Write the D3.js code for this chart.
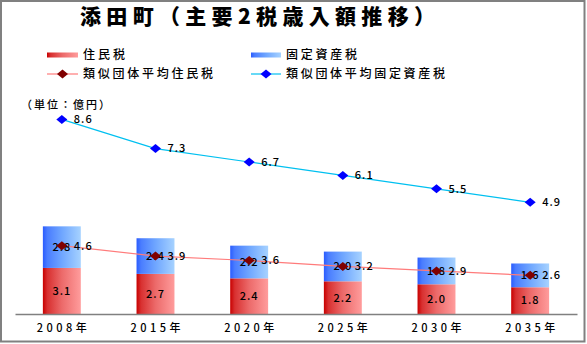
<!DOCTYPE html>
<html><head><meta charset="utf-8">
<script src="https://cdn.jsdelivr.net/npm/d3@7"></script>
<style>
html,body{margin:0;padding:0;background:#fff;}
svg{display:block;font-family:"Noto Sans CJK JP","Noto Sans",sans-serif;}
</style></head>
<body>
<svg id="c" width="587" height="344"></svg>
<script>
const categories = ["2008年","2015年","2020年","2025年","2030年","2035年"];
const residentTax = [3.1, 2.7, 2.4, 2.2, 2.0, 1.8];
const fixedAssetTax = [2.8, 2.4, 2.2, 2.0, 1.8, 1.6];
const avgResidentTax = [4.6, 3.9, 3.6, 3.2, 2.9, 2.6];
const avgFixedAssetTax = [8.6, 7.3, 6.7, 6.1, 5.5, 4.9];
const titleText = "添田町（主要2税歳入額推移）";
const unitText = "（単位：億円）";
const legendLabels = ["住民税","固定資産税","類似団体平均住民税","類似団体平均固定資産税"];

const svg = d3.select("#c");
const defs = svg.append("defs");
function grad(id, stops){
  const g = defs.append("linearGradient").attr("id", id).attr("x1","0").attr("x2","1").attr("y1","0").attr("y2","0");
  stops.forEach(s => g.append("stop").attr("offset", s[0]).attr("stop-color", s[1]));
}
grad("gRed", [[0,"#c80000"],[0.12,"#d83030"],[0.5,"#ec6a6a"],[1,"#ff9c9c"]]);
grad("gBlue", [[0,"#2a5cff"],[0.12,"#4a7dff"],[0.5,"#6fa6ff"],[1,"#a6d2ff"]]);

// frame
svg.append("rect").attr("x",1).attr("y",1).attr("width",583.5).attr("height",340.5)
  .attr("fill","none").attr("stroke","#808080").attr("stroke-width",2);

const x = d3.scaleBand().domain(categories).range([15, 577]).padding(0);
const y1 = d3.scaleLinear().domain([0, 14]).range([314, 106]);
const y2 = d3.scaleLinear().domain([0, 9.2]).range([312, 106]);
const bw = x.bandwidth() * 0.405;
const cx = c => x(c) + x.bandwidth() / 2;

// bars
const g = svg.append("g");
categories.forEach((c, i) => {
  const r = residentTax[i], f = fixedAssetTax[i];
  g.append("rect").attr("x", cx(c) - bw/2).attr("y", y1(r)).attr("width", bw).attr("height", y1(0) - y1(r)).attr("fill","url(#gRed)");
  g.append("rect").attr("x", cx(c) - bw/2).attr("y", y1(r + f)).attr("width", bw).attr("height", y1(r) - y1(r + f)).attr("fill","url(#gBlue)");
});

// axis
const ax = svg.append("g").attr("transform","translate(0,314)").call(d3.axisBottom(x).tickSize(0).tickPadding(0).tickFormat(""));
ax.select(".domain").attr("stroke","#808080").attr("stroke-width",1.5);
categories.forEach(c => {
  svg.append("text").attr("x", cx(c) - 25).attr("y", 328).attr("dy","0.35em")
    .attr("font-size", 11).attr("font-weight", 500).attr("textLength", 50).attr("lengthAdjust","spacing").attr("fill","#000").text(c);
});

// lines
const lineR = d3.line().x((d,i) => cx(categories[i])).y(d => y1(d));
const lineF = d3.line().x((d,i) => cx(categories[i])).y(d => y2(d));
svg.append("path").attr("d", lineR(avgResidentTax)).attr("fill","none").attr("stroke","#ff7b7b").attr("stroke-width",1.2);
svg.append("path").attr("d", lineF(avgFixedAssetTax)).attr("fill","none").attr("stroke","#00c0f0").attr("stroke-width",1.2);

function diamond(sel, px, py, fill){
  sel.append("path").attr("d", `M${px-5.5},${py} L${px},${py-4.5} L${px+5.5},${py} L${px},${py+4.5} Z`).attr("fill", fill);
}

// bar labels
const lab = svg.append("g").attr("font-size", 11).attr("font-weight", 500).attr("fill","#000").attr("letter-spacing","1px");
categories.forEach((c, i) => {
  const r = residentTax[i], f = fixedAssetTax[i];
  lab.append("text").attr("x", cx(c)).attr("y", (y1(0)+y1(r))/2).attr("dy","0.35em").attr("text-anchor","middle").text(r.toFixed(1));
  lab.append("text").attr("x", cx(c)).attr("y", (y1(r)+y1(r+f))/2).attr("dy","0.35em").attr("text-anchor","middle").text(f.toFixed(1));
});

// markers and line labels
categories.forEach((c, i) => {
  diamond(svg, cx(c), y1(avgResidentTax[i]), "#800000");
  diamond(svg, cx(c), y2(avgFixedAssetTax[i]), "#0000ff");
});
categories.forEach((c, i) => {
  lab.append("text").attr("x", cx(c) + 12).attr("y", y1(avgResidentTax[i])).attr("dy","0.35em").text(avgResidentTax[i].toFixed(1));
  lab.append("text").attr("x", cx(c) + 12).attr("y", y2(avgFixedAssetTax[i])).attr("dy","0.35em").text(avgFixedAssetTax[i].toFixed(1));
});

// title
svg.append("text").attr("x", 80).attr("y", 17).attr("dy","0.35em").attr("font-size", 21).attr("font-weight", 900)
  .attr("textLength", 355).attr("lengthAdjust","spacing").attr("fill","#000").text(titleText);

// unit
svg.append("text").attr("x", 21).attr("y", 105).attr("dy","0.35em").attr("font-size", 11).attr("font-weight", 500)
  .attr("textLength", 89).attr("lengthAdjust","spacing").text(unitText);

// legend
const L = svg.append("g").attr("font-size", 12).attr("font-weight", 500).attr("fill","#000");
L.append("rect").attr("x",47).attr("y",52.5).attr("width",31).attr("height",5).attr("fill","url(#gRed)");
L.append("rect").attr("x",251).attr("y",52.5).attr("width",30).attr("height",5).attr("fill","url(#gBlue)");
L.append("line").attr("x1",47).attr("x2",78).attr("y1",74).attr("y2",74).attr("stroke","#ff7b7b").attr("stroke-width",1.2);
L.append("line").attr("x1",251).attr("x2",281).attr("y1",74).attr("y2",74).attr("stroke","#00c0f0").attr("stroke-width",1.2);
diamond(L, 62.5, 74, "#800000");
diamond(L, 266, 74, "#0000ff");
const legPos = [[83,55,42],[286,55,71],[83,74,130],[286,74,159]];
legendLabels.forEach((t, i) => {
  L.append("text").attr("x", legPos[i][0]).attr("y", legPos[i][1]).attr("dy","0.35em")
    .attr("textLength", legPos[i][2]).attr("lengthAdjust","spacing").text(t);
});
</script>
</body></html>
